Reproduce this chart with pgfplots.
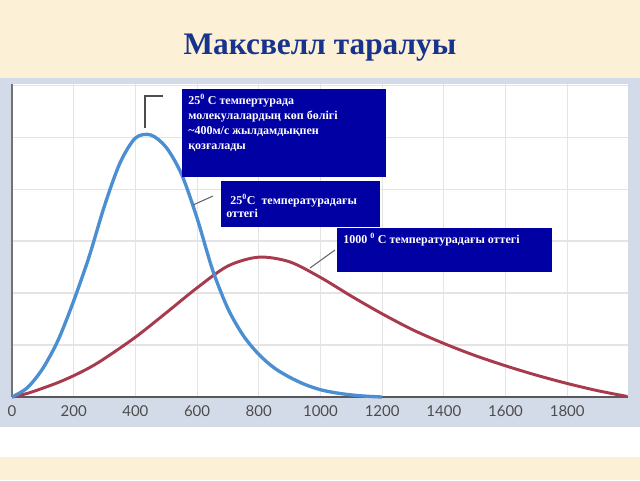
\documentclass[border=0pt]{standalone}
\usepackage{pgfplots}
\pgfplotsset{compat=1.18}
\usepackage{fontspec}
\setmainfont{Liberation Serif}
\newfontfamily\ticksfont{Lato}
\definecolor{cream}{HTML}{FCF0D6}
\definecolor{panel}{HTML}{D4DBE8}
\definecolor{titleblue}{HTML}{17338C}
\definecolor{boxblue}{HTML}{0000A3}
\definecolor{curveblue}{HTML}{4C8ED2}
\definecolor{curvered}{HTML}{A73A4D}
\definecolor{gridgray}{HTML}{E4E4E4}
\begin{document}
\begin{tikzpicture}
\begin{scope}[x=0.75pt,y=-0.75pt]
\fill[cream] (0,0) rectangle (640,480);
\fill[panel] (0,78) rectangle (640,427);
\fill[white] (0,427) rectangle (640,457);
\node[font=\bfseries\fontsize{23.5}{26}\selectfont, text=titleblue] at (320,48) {Максвелл таралуы};
\end{scope}
\begin{axis}[
  at={(9pt,-297.75pt)}, anchor=south west,
  width=462pt, height=234.75pt, scale only axis,
  xmin=0, xmax=1997, ymin=0, ymax=6.02,
  axis x line*=bottom, axis y line*=left,
  x axis line style={draw=black!65, line width=1.1pt, -},
  y axis line style={draw=black!55, line width=0.8pt, -},
  axis background/.style={fill=white},
  grid=major, major grid style={gridgray, line width=0.8pt},
  xtick={0,200,...,1800}, ytick={0,1,...,6}, yticklabels={},
  major tick length=0pt,
  /pgf/number format/assume math mode=true,
  /pgf/number format/set thousands separator={},
  xticklabel style={font=\ticksfont\fontsize{11.25}{12}\selectfont, text=black!70, yshift=-3pt},
  clip=false,
]
\addplot[curvered, line width=2.2pt, smooth] coordinates {
(0,0) (50,0.07) (100,0.17) (150,0.28) (200,0.41) (250,0.56) (300,0.74)
(400,1.15) (500,1.62) (600,2.10)
(700,2.52) (800,2.69) (900,2.60) (1000,2.30) (1100,1.94) (1200,1.60)
(1300,1.29) (1400,1.03) (1500,0.80) (1600,0.60) (1700,0.42) (1800,0.26)
(1900,0.12) (1995,0.01)};
\addplot[curveblue, line width=2.5pt, smooth] coordinates {
(0,0) (50,0.18) (100,0.55) (150,1.10) (200,1.85) (250,2.70) (300,3.68) (350,4.50)
(400,4.98) (450,5.04) (500,4.80) (550,4.28) (600,3.44) (650,2.45) (700,1.70)
(750,1.18) (800,0.82) (850,0.56) (900,0.38) (950,0.24) (1000,0.14)
(1050,0.08) (1100,0.04) (1150,0.015) (1200,0)};
\end{axis}
\begin{scope}[x=0.75pt,y=-0.75pt]
\draw[black!70, line width=0.8pt] (145,128) -- (145,96) -- (163,96);
\fill[boxblue] (182,89) rectangle (386,177);
\node[anchor=north west, inner sep=0pt, text=white, align=left,
  font=\bfseries\fontsize{9}{11.25}\selectfont] at (188,94)
  {25\textsuperscript{0} С темпертурада\\молекулалардың көп бөлігі\\\textasciitilde400м/с жылдамдықпен\\қозғалады};
\draw[black!60, line width=0.8pt] (193,205) -- (213,196);
\fill[boxblue] (221,181) rectangle (380,227);
\node[anchor=north west, inner sep=0pt, text=white,
  font=\bfseries\fontsize{9}{11.25}\selectfont] at (230,194) {25\textsuperscript{0}С\ \ температурадағы};
\node[anchor=north west, inner sep=0pt, text=white,
  font=\bfseries\fontsize{9}{11.25}\selectfont] at (226,209) {оттегі};
\draw[black!60, line width=0.8pt] (310,268) -- (335,250);
\fill[boxblue] (337,228) rectangle (552,272);
\node[anchor=north west, inner sep=0pt, text=white,
  font=\bfseries\fontsize{9}{11.25}\selectfont] at (343,233) {1000 \textsuperscript{0} С температурадағы оттегі};
\end{scope}
\end{tikzpicture}
\end{document}
